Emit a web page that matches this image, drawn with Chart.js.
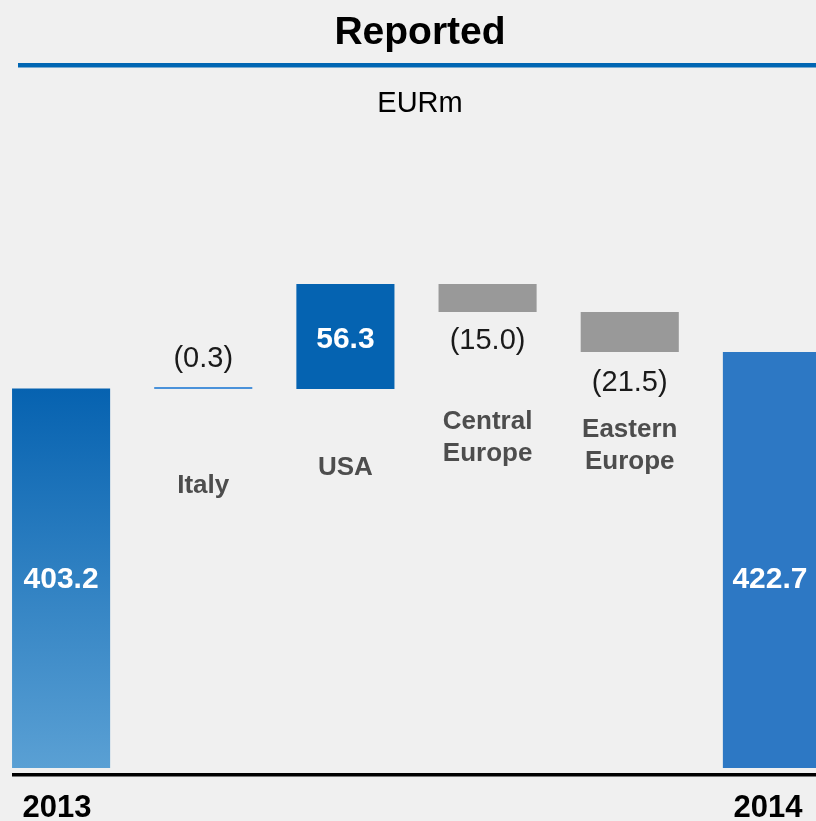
<!DOCTYPE html>
<html>
<head>
<meta charset="utf-8">
<script src="https://cdn.jsdelivr.net/npm/chart.js@4/dist/chart.umd.min.js"></script>
<style>
  html, body { margin: 0; padding: 0; background: #f0f0f0; }
  #wrap { position: relative; width: 816px; height: 821px; overflow: hidden; }
  #bridge { position: absolute; left: -10px; top: 0; }
</style>
</head>
<body>
<div id="wrap"><canvas id="bridge" width="870" height="821"></canvas></div>
<script>
// waterfall data
const categories = ["2013", "Italy", "USA", "Central\nEurope", "Eastern\nEurope", "2014"];
const openingTotal = 403.2;
const changes = [-0.3, 56.3, -15.0, -21.5];
const closingTotal = 422.7;
const axisMin = 200;
const axisMax = 540;

const SHIFT = 10; // canvas sits 10px left of the page
const FONT = "'Liberation Sans', Arial, sans-serif";

// build floating bars [start, end] from the running total
const bars = [[axisMin, openingTotal]];
let level = openingTotal;
changes.forEach((c) => {
  bars.push([level, +(level + c).toFixed(1)]);
  level = +(level + c).toFixed(1);
});
bars.push([axisMin, closingTotal]);

const colors = [null, "#4a92da", "#0563b1", "#999999", "#999999", "#2d78c4"];

function barColor(ctx) {
  if (ctx.dataIndex !== 0) return colors[ctx.dataIndex];
  const chart = ctx.chart;
  const y = chart.scales.y;
  if (!chart.chartArea || !y) return "#2f7fc4";
  const g = chart.ctx.createLinearGradient(0, y.getPixelForValue(openingTotal), 0, y.getPixelForValue(axisMin));
  g.addColorStop(0, "#0662b0");
  g.addColorStop(1, "#5aa0d4");
  return g;
}

const fmtChange = (v) => (v < 0 ? "(" + Math.abs(v).toFixed(1) + ")" : v.toFixed(1));

// titles, rules and labels
const decorations = {
  id: "decorations",
  afterDatasetsDraw(chart) {
    const { ctx } = chart;
    const x = chart.scales.x;
    const y = chart.scales.y;
    const meta = chart.getDatasetMeta(0);
    ctx.save();
    ctx.textAlign = "center";
    ctx.textBaseline = "middle";

    // totals inside the bars
    ctx.fillStyle = "#ffffff";
    ctx.font = "bold 30px " + FONT;
    const totalY = (y.getPixelForValue(openingTotal) + y.getPixelForValue(axisMin)) / 2 + 1;
    ctx.fillText(openingTotal.toFixed(1), x.getPixelForValue(0), totalY);
    ctx.fillText(closingTotal.toFixed(1), x.getPixelForValue(5) - 2, totalY);

    // changes
    const changeOffsets = [-28, 0, 29, 31];
    changes.forEach((c, i) => {
      const bar = meta.data[i + 1];
      const cx = x.getPixelForValue(i + 1);
      if (c > 0) {
        ctx.fillStyle = "#ffffff";
        ctx.font = "bold 30px " + FONT;
        ctx.fillText(fmtChange(c), cx, (bar.y + bar.base) / 2 + 3);
      } else {
        ctx.fillStyle = "#1a1a1a";
        ctx.font = "29px " + FONT;
        const edge = changeOffsets[i] < 0 ? Math.min(bar.y, bar.base) : Math.max(bar.y, bar.base);
        ctx.fillText(fmtChange(c), cx, edge + changeOffsets[i]);
      }
    });

    // category names under the moving bars
    const nameOffsets = [97, 79, 110, 78];
    ctx.fillStyle = "#4d4d4d";
    ctx.font = "bold 26px " + FONT;
    for (let i = 1; i <= 4; i++) {
      const bar = meta.data[i];
      const bottom = Math.max(bar.y, bar.base);
      categories[i].split("\n").forEach((line, k) => {
        ctx.fillText(line, x.getPixelForValue(i), bottom + nameOffsets[i - 1] + k * 32);
      });
    }

    // header
    ctx.translate(SHIFT, 0);
    ctx.fillStyle = "#000000";
    ctx.font = "bold 39px " + FONT;
    ctx.fillText("Reported", 420, 33);
    ctx.font = "29px " + FONT;
    ctx.fillText("EURm", 420, 104);
    ctx.fillStyle = "#0066b3";
    ctx.fillRect(18, 63, 798, 4.5);

    // base line
    ctx.fillStyle = "#000000";
    ctx.fillRect(12, 773, 804, 3.5);
    ctx.restore();
  },
};

new Chart(document.getElementById("bridge"), {
  type: "bar",
  data: {
    labels: categories,
    datasets: [
      {
        data: bars,
        backgroundColor: barColor,
        borderWidth: 0,
        minBarLength: 2,
        categoryPercentage: 1,
        barPercentage: 0.69,
      },
    ],
  },
  options: {
    responsive: false,
    animation: false,
    layout: { padding: { top: 133, left: 0, right: 17, bottom: 0 } },
    plugins: {
      legend: { display: false },
      tooltip: { enabled: false },
    },
    scales: {
      x: {
        grid: { display: false },
        border: { display: false },
        afterFit: (scale) => { scale.height = 53; },
        ticks: {
          autoSkip: false,
          maxRotation: 0,
          padding: 14,
          labelOffset: -4,
          color: "#000000",
          font: { family: FONT, size: 31, weight: "bold" },
          callback: (v, i) => (i === 0 || i === categories.length - 1 ? categories[i] : ""),
        },
      },
      y: {
        display: false,
        min: axisMin,
        max: axisMax,
      },
    },
  },
  plugins: [decorations],
});
</script>
</body>
</html>
